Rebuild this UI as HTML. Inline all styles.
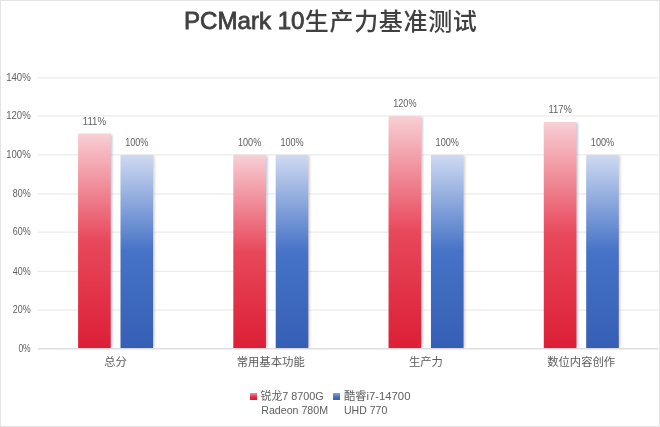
<!DOCTYPE html>
<html lang="zh-CN"><head><meta charset="utf-8"><title>PCMark 10生产力基准测试</title>
<style>
html,body{margin:0;padding:0;background:#fff;}
body{width:660px;height:427px;overflow:hidden;font-family:"Liberation Sans","Noto Sans CJK SC",sans-serif;}
svg{display:block}
text{font-family:"Liberation Sans","Noto Sans CJK SC",sans-serif;}
.ax{font-size:11.5px;fill:#606060}
.cat{font-size:11.35px;fill:#5c5c5c}
.lg{font-size:11.5px;fill:#5e5e5e}
.ttl{font-size:24px;font-weight:500;fill:#404040}
.lat{font-size:24px;stroke:#404040;stroke-width:0.8px;}
</style></head><body>
<svg width="660" height="427" viewBox="0 0 660 427">
<defs>
<linearGradient id="gr" x1="0" y1="0" x2="0" y2="1">
<stop offset="0" stop-color="#f8cfd5"/><stop offset="0.5" stop-color="#e8485b"/><stop offset="1" stop-color="#dc1f36"/>
</linearGradient>
<linearGradient id="gb" x1="0" y1="0" x2="0" y2="1">
<stop offset="0" stop-color="#cfdaf1"/><stop offset="0.5" stop-color="#4673c7"/><stop offset="1" stop-color="#355fb4"/>
</linearGradient>
<linearGradient id="lr" x1="0" y1="0" x2="0" y2="1"><stop offset="0" stop-color="#f0929e"/><stop offset="0.6" stop-color="#df2a40"/><stop offset="1" stop-color="#dc1f36"/></linearGradient>
<linearGradient id="lb" x1="0" y1="0" x2="0" y2="1"><stop offset="0" stop-color="#8aa4dc"/><stop offset="0.6" stop-color="#426dc0"/><stop offset="1" stop-color="#3862b6"/></linearGradient>
<filter id="sh" x="-20%" y="-5%" width="150%" height="110%"><feGaussianBlur stdDeviation="1.1"/></filter>
</defs>
<rect x="0" y="0" width="660" height="427" fill="#fff"/>
<rect x="0.5" y="0.5" width="659" height="426" fill="none" stroke="#e4e4e4" stroke-width="1"/>

<line x1="37.8" x2="658.5" y1="348.70" y2="348.70" stroke="#dedede" stroke-width="1.6"/>
<text class="ax" x="30.7" y="352.00" text-anchor="end" textLength="12.3" lengthAdjust="spacingAndGlyphs">0%</text>
<line x1="37.8" x2="658.5" y1="310.00" y2="310.00" stroke="#ebebeb" stroke-width="1.25"/>
<text class="ax" x="30.7" y="313.30" text-anchor="end" textLength="17.9" lengthAdjust="spacingAndGlyphs">20%</text>
<line x1="37.8" x2="658.5" y1="271.30" y2="271.30" stroke="#ebebeb" stroke-width="1.25"/>
<text class="ax" x="30.7" y="274.60" text-anchor="end" textLength="17.9" lengthAdjust="spacingAndGlyphs">40%</text>
<line x1="37.8" x2="658.5" y1="232.00" y2="232.00" stroke="#ebebeb" stroke-width="1.25"/>
<text class="ax" x="30.7" y="235.30" text-anchor="end" textLength="17.9" lengthAdjust="spacingAndGlyphs">60%</text>
<line x1="37.8" x2="658.5" y1="193.90" y2="193.90" stroke="#ebebeb" stroke-width="1.25"/>
<text class="ax" x="30.7" y="197.20" text-anchor="end" textLength="17.9" lengthAdjust="spacingAndGlyphs">80%</text>
<line x1="37.8" x2="658.5" y1="154.90" y2="154.90" stroke="#ebebeb" stroke-width="1.25"/>
<text class="ax" x="30.7" y="158.20" text-anchor="end" textLength="24.5" lengthAdjust="spacingAndGlyphs">100%</text>
<line x1="37.8" x2="658.5" y1="115.90" y2="115.90" stroke="#ebebeb" stroke-width="1.25"/>
<text class="ax" x="30.7" y="119.20" text-anchor="end" textLength="24.5" lengthAdjust="spacingAndGlyphs">120%</text>
<line x1="37.8" x2="658.5" y1="77.85" y2="77.85" stroke="#ebebeb" stroke-width="1.25"/>
<text class="ax" x="30.7" y="81.15" text-anchor="end" textLength="24.5" lengthAdjust="spacingAndGlyphs">140%</text>
<text class="ttl" y="28.6"><tspan class="lat" x="183.9" textLength="120.6" lengthAdjust="spacingAndGlyphs">PCMark 10</tspan><tspan x="304.8" dy="0.9" textLength="172" lengthAdjust="spacing">生产力基准测试</tspan></text>
<rect x="79.70" y="134.66" width="32.60" height="212.84" fill="#94aac6" opacity="0.62" filter="url(#sh)"/>
<rect x="78.10" y="133.66" width="32.60" height="214.34" fill="url(#gr)"/>
<text class="ax" x="94.40" y="124.86" text-anchor="middle" textLength="23.3" lengthAdjust="spacingAndGlyphs">111%</text>
<rect x="122.10" y="155.90" width="32.60" height="191.60" fill="#c4a68e" opacity="0.5" filter="url(#sh)"/>
<rect x="120.50" y="154.90" width="32.60" height="193.10" fill="url(#gb)"/>
<text class="ax" x="136.80" y="146.10" text-anchor="middle" textLength="23.3" lengthAdjust="spacingAndGlyphs">100%</text>
<text class="cat" x="115.50" y="366" text-anchor="middle">总分</text>
<rect x="234.93" y="155.90" width="32.60" height="191.60" fill="#94aac6" opacity="0.62" filter="url(#sh)"/>
<rect x="233.33" y="154.90" width="32.60" height="193.10" fill="url(#gr)"/>
<text class="ax" x="249.63" y="146.10" text-anchor="middle" textLength="23.3" lengthAdjust="spacingAndGlyphs">100%</text>
<rect x="277.33" y="155.90" width="32.60" height="191.60" fill="#c4a68e" opacity="0.5" filter="url(#sh)"/>
<rect x="275.73" y="154.90" width="32.60" height="193.10" fill="url(#gb)"/>
<text class="ax" x="292.03" y="146.10" text-anchor="middle" textLength="23.3" lengthAdjust="spacingAndGlyphs">100%</text>
<text class="cat" x="270.73" y="366" text-anchor="middle">常用基本功能</text>
<rect x="390.16" y="117.28" width="32.60" height="230.22" fill="#94aac6" opacity="0.62" filter="url(#sh)"/>
<rect x="388.56" y="116.28" width="32.60" height="231.72" fill="url(#gr)"/>
<text class="ax" x="404.86" y="107.48" text-anchor="middle" textLength="23.3" lengthAdjust="spacingAndGlyphs">120%</text>
<rect x="432.56" y="155.90" width="32.60" height="191.60" fill="#c4a68e" opacity="0.5" filter="url(#sh)"/>
<rect x="430.96" y="154.90" width="32.60" height="193.10" fill="url(#gb)"/>
<text class="ax" x="447.26" y="146.10" text-anchor="middle" textLength="23.3" lengthAdjust="spacingAndGlyphs">100%</text>
<text class="cat" x="425.96" y="366" text-anchor="middle">生产力</text>
<rect x="545.39" y="123.07" width="32.60" height="224.43" fill="#94aac6" opacity="0.62" filter="url(#sh)"/>
<rect x="543.79" y="122.07" width="32.60" height="225.93" fill="url(#gr)"/>
<text class="ax" x="560.09" y="113.27" text-anchor="middle" textLength="23.3" lengthAdjust="spacingAndGlyphs">117%</text>
<rect x="587.79" y="155.90" width="32.60" height="191.60" fill="#c4a68e" opacity="0.5" filter="url(#sh)"/>
<rect x="586.19" y="154.90" width="32.60" height="193.10" fill="url(#gb)"/>
<text class="ax" x="602.49" y="146.10" text-anchor="middle" textLength="23.3" lengthAdjust="spacingAndGlyphs">100%</text>
<text class="cat" x="581.19" y="366" text-anchor="middle">数位内容创作</text>
<rect x="250" y="393" width="7" height="7" fill="url(#lr)"/>
<rect x="333" y="393" width="7" height="7" fill="url(#lb)"/>
<text class="lg" x="260.6" y="399.7" textLength="63.2" lengthAdjust="spacingAndGlyphs">锐龙7 8700G</text>
<text class="lg" x="261.3" y="413.7" textLength="66.7" lengthAdjust="spacingAndGlyphs">Radeon 780M</text>
<text class="lg" x="344" y="399.7" textLength="66.4" lengthAdjust="spacingAndGlyphs">酷睿i7-14700</text>
<text class="lg" x="344" y="413.7" textLength="43.3" lengthAdjust="spacingAndGlyphs">UHD 770</text>
</svg></body></html>
